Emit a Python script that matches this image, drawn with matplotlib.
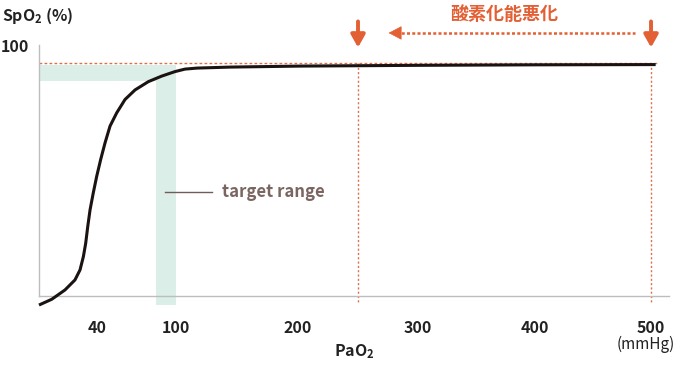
import numpy as np
import matplotlib
matplotlib.use("Agg")
import matplotlib.pyplot as plt

plt.rcParams['font.family'] = ['Noto Sans CJK JP', 'DejaVu Sans']

# ---- data ----
pao2 = [0.0, 8.8, 17.9, 24.8, 28.3, 30.6, 32.2, 33.6, 35.2, 37.4, 39.8, 42.8,
        46.1, 49.9, 55.0, 61.3, 68.9, 79.0, 89.1, 99.2, 107.4, 117.2, 144.3,
        201.7, 300, 400, 504]
spo2 = [-3.6, -1.3, 2.4, 6.4, 10.4, 15.7, 21.0, 27.6, 34.3, 41.0, 47.7, 54.4,
        61.0, 67.7, 73.0, 78.3, 82.1, 85.4, 87.6, 89.4, 90.4, 90.8, 91.2,
        91.6, 91.9, 92.1, 92.2]
xticks = [40, 100, 200, 300, 400, 500]
target_x = (85, 100)
target_y = (85.7, 92.0)
ref_level = 92.8
mark_x = [250, 500]
title_jp = '酸素化能悪化'

# axis scale anchors (nonlinear drawing of PaO2 axis)
scale_data = np.array([-100, 0, 40, 100, 200, 300, 400, 500, 700])
scale_pos = np.array([-106, 39, 97, 176, 298, 418, 535, 651, 883])

def fwd(x):
    return np.interp(x, scale_data, scale_pos)

def inv(p):
    return np.interp(p, scale_pos, scale_data)

W, H = 686, 367
fig = plt.figure(figsize=(W / 100, H / 100), dpi=100)
ax = fig.add_axes([39 / W, 1 - 296 / H, (669 - 39) / W, (296 - 45) / H])
ax.set_xscale('function', functions=(fwd, inv))
ax.set_xlim(0, 515.5)
ax.set_ylim(0, 100)

orange = '#e35f34'
dot_orange = '#d9714f'
green = '#dbeee7'

# target range bands
ax.fill_between([0, target_x[1]], target_y[0], target_y[1], color=green, lw=0, zorder=1)
ax.fill_between(list(target_x), -3.6, target_y[0], color=green, lw=0, zorder=1, clip_on=False)

# reference dashed lines
ax.plot([0, 505], [ref_level, ref_level], color=dot_orange, lw=1, ls=(0, (2, 1.6)), zorder=2)
for mx in mark_x:
    ax.plot([mx, mx], [ref_level, -2.8], color=dot_orange, lw=1, ls=(0, (1.5, 1.6)),
            zorder=2, clip_on=False)

# curve
ax.plot(pao2, spo2, color='#1a1311', lw=2.2, zorder=3, clip_on=False,
        solid_capstyle='butt', solid_joinstyle='round')

# down arrows
for mx in mark_x:
    ax.annotate('', xy=(mx, 99.0), xytext=(mx, 109.4), annotation_clip=False,
                arrowprops=dict(arrowstyle='-|>,head_length=0.75,head_width=0.42',
                                mutation_scale=10, color=orange, lw=2.8,
                                shrinkA=0, shrinkB=0))

# left dotted arrow
ax.plot([282, 486], [104.8, 104.8], color=orange, lw=1.8, ls=(0, (1.2, 0.9)),
        clip_on=False)
ax.annotate('', xy=(275.5, 104.8), xytext=(285, 104.8), annotation_clip=False,
            arrowprops=dict(arrowstyle='-|>,head_length=0.85,head_width=0.45',
                            mutation_scale=10, color=orange, lw=0.5,
                            shrinkA=0, shrinkB=0))
ax.text(374, 112, title_jp, color=orange, fontsize=13, fontweight='bold',
        ha='center', va='center', clip_on=False)

# target range label
ax.plot([91.6, 129.5], [41.4, 41.4], color='#6e5d58', lw=1)
ax.text(137.7, 41.4, 'target range', color='#7a6661', fontsize=12,
        fontweight='bold', ha='left', va='center')

# spines / ticks
for s in ['top', 'right']:
    ax.spines[s].set_visible(False)
for s in ['left', 'bottom']:
    ax.spines[s].set_color('#bdbdbd')
    ax.spines[s].set_linewidth(1)
ax.set_xticks(xticks)
ax.set_xticklabels([str(v) for v in xticks])
ax.set_yticks([100])
ax.set_yticklabels(['100'])
ax.tick_params(axis='x', length=0, pad=17, labelsize=11.5, labelcolor='#222222')
ax.tick_params(axis='y', length=0, pad=7, labelsize=11.5, labelcolor='#222222')
for lab in ax.get_xticklabels() + ax.get_yticklabels():
    lab.set_fontweight('bold')

fig.text(2 / W, 1 - 16 / H, 'SpO$_\\mathregular{2}$ (%)', fontsize=11.5, fontweight='bold',
         color='#222222', ha='left', va='center')
fig.text(354 / W, 1 - 352 / H, 'PaO$_\\mathregular{2}$', fontsize=11.5, fontweight='bold',
         color='#222222', ha='center', va='center')
fig.text(646 / W, 1 - 344 / H, '(mmHg)', fontsize=11, color='#222222',
         ha='center', va='center')

fig.savefig('out.png', dpi=100)
